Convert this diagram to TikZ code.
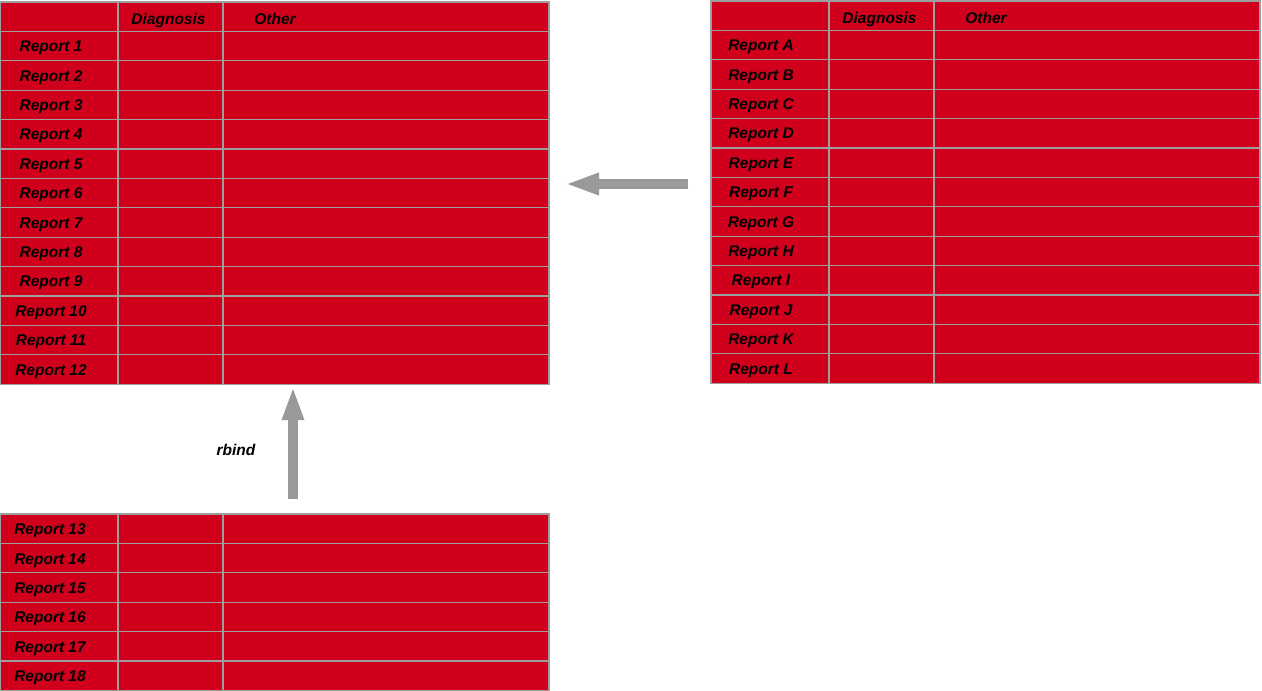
\documentclass[tikz,border=0pt]{standalone}
\usepackage{fontspec}
\setmainfont{Liberation Sans}
\usetikzlibrary{arrows.meta}

\definecolor{cellred}{RGB}{208,0,28}
\definecolor{gridgrey}{RGB}{158,158,158}
\definecolor{arrowgrey}{RGB}{153,153,153}

\begin{document}
\begin{tikzpicture}[x=1pt, y=-1pt,
	cell/.style={draw=gridgrey, line width=1.3pt, fill=cellred, anchor=north west,
		inner sep=0pt, outer sep=0pt, minimum height=29.4pt},
	txt/.style={font=\fontsize{15.5}{18}\selectfont\bfseries\itshape, inner sep=0pt, anchor=base},
	bigarrow/.style={draw=arrowgrey, line width=10pt, -{Triangle[length=34pt, width=20pt, fill=arrowgrey]}}]
\useasboundingbox (0,0) rectangle (1262,691);

% left table
\foreach \r in {0,...,12} {
	\node[cell, minimum width=118pt] (L-\r-1) at (0, 2+\r*29.4) {};
	\node[cell, minimum width=105pt] (L-\r-2) at (118, 2+\r*29.4) {};
	\node[cell, minimum width=326pt] (L-\r-3) at (223, 2+\r*29.4) {};
}
\node[txt] (L-diag) at ([xshift=-2pt, yshift=-8pt]L-0-2.center) {Diagnosis};
\node[txt] (L-other) at ([xshift=52pt, yshift=-8pt]L-0-3.west) {Other};
\foreach \r in {1,...,12}
	\node[txt] (L-lab-\r) at ([xshift=-8pt, yshift=-5.5pt]L-\r-1.center) {Report \r};

% right table
\foreach \r in {0,...,12} {
	\node[cell, minimum width=118pt] (R-\r-1) at (711, 1+\r*29.4) {};
	\node[cell, minimum width=105pt] (R-\r-2) at (829, 1+\r*29.4) {};
	\node[cell, minimum width=326pt] (R-\r-3) at (934, 1+\r*29.4) {};
}
\node[txt] (R-diag) at ([xshift=-2pt, yshift=-8pt]R-0-2.center) {Diagnosis};
\node[txt] (R-other) at ([xshift=52pt, yshift=-8pt]R-0-3.west) {Other};
\foreach \l [count=\r] in {A,B,C,D,E,F,G,H,I,J,K,L}
	\node[txt] (R-lab-\r) at ([xshift=-9pt, yshift=-5.5pt]R-\r-1.center) {Report \l};

% bottom table
\foreach \r [evaluate=\r as \k using int(\r+12)] in {1,...,6} {
	\node[cell, minimum width=118pt] (B-\r-1) at (0, 514+\r*29.4-29.4) {};
	\node[cell, minimum width=105pt] (B-\r-2) at (118, 514+\r*29.4-29.4) {};
	\node[cell, minimum width=326pt] (B-\r-3) at (223, 514+\r*29.4-29.4) {};
	\node[txt] (B-lab-\r) at ([xshift=-9pt, yshift=-6pt]B-\r-1.center) {Report \k};
}

% arrows
\coordinate (upx) at (293,0);
\coordinate (lefty) at (0,184);
\draw[bigarrow, shorten <=15pt, shorten >=2pt] (B-1-3.north -| upx) -- (L-12-3.south -| upx);
\draw[bigarrow, shorten <=23pt, shorten >=16pt] (R-0-1.west |- lefty) -- (L-0-3.east |- lefty);
\node[txt] (rbind) at (236,455) {rbind};

\end{tikzpicture}
\end{document}
